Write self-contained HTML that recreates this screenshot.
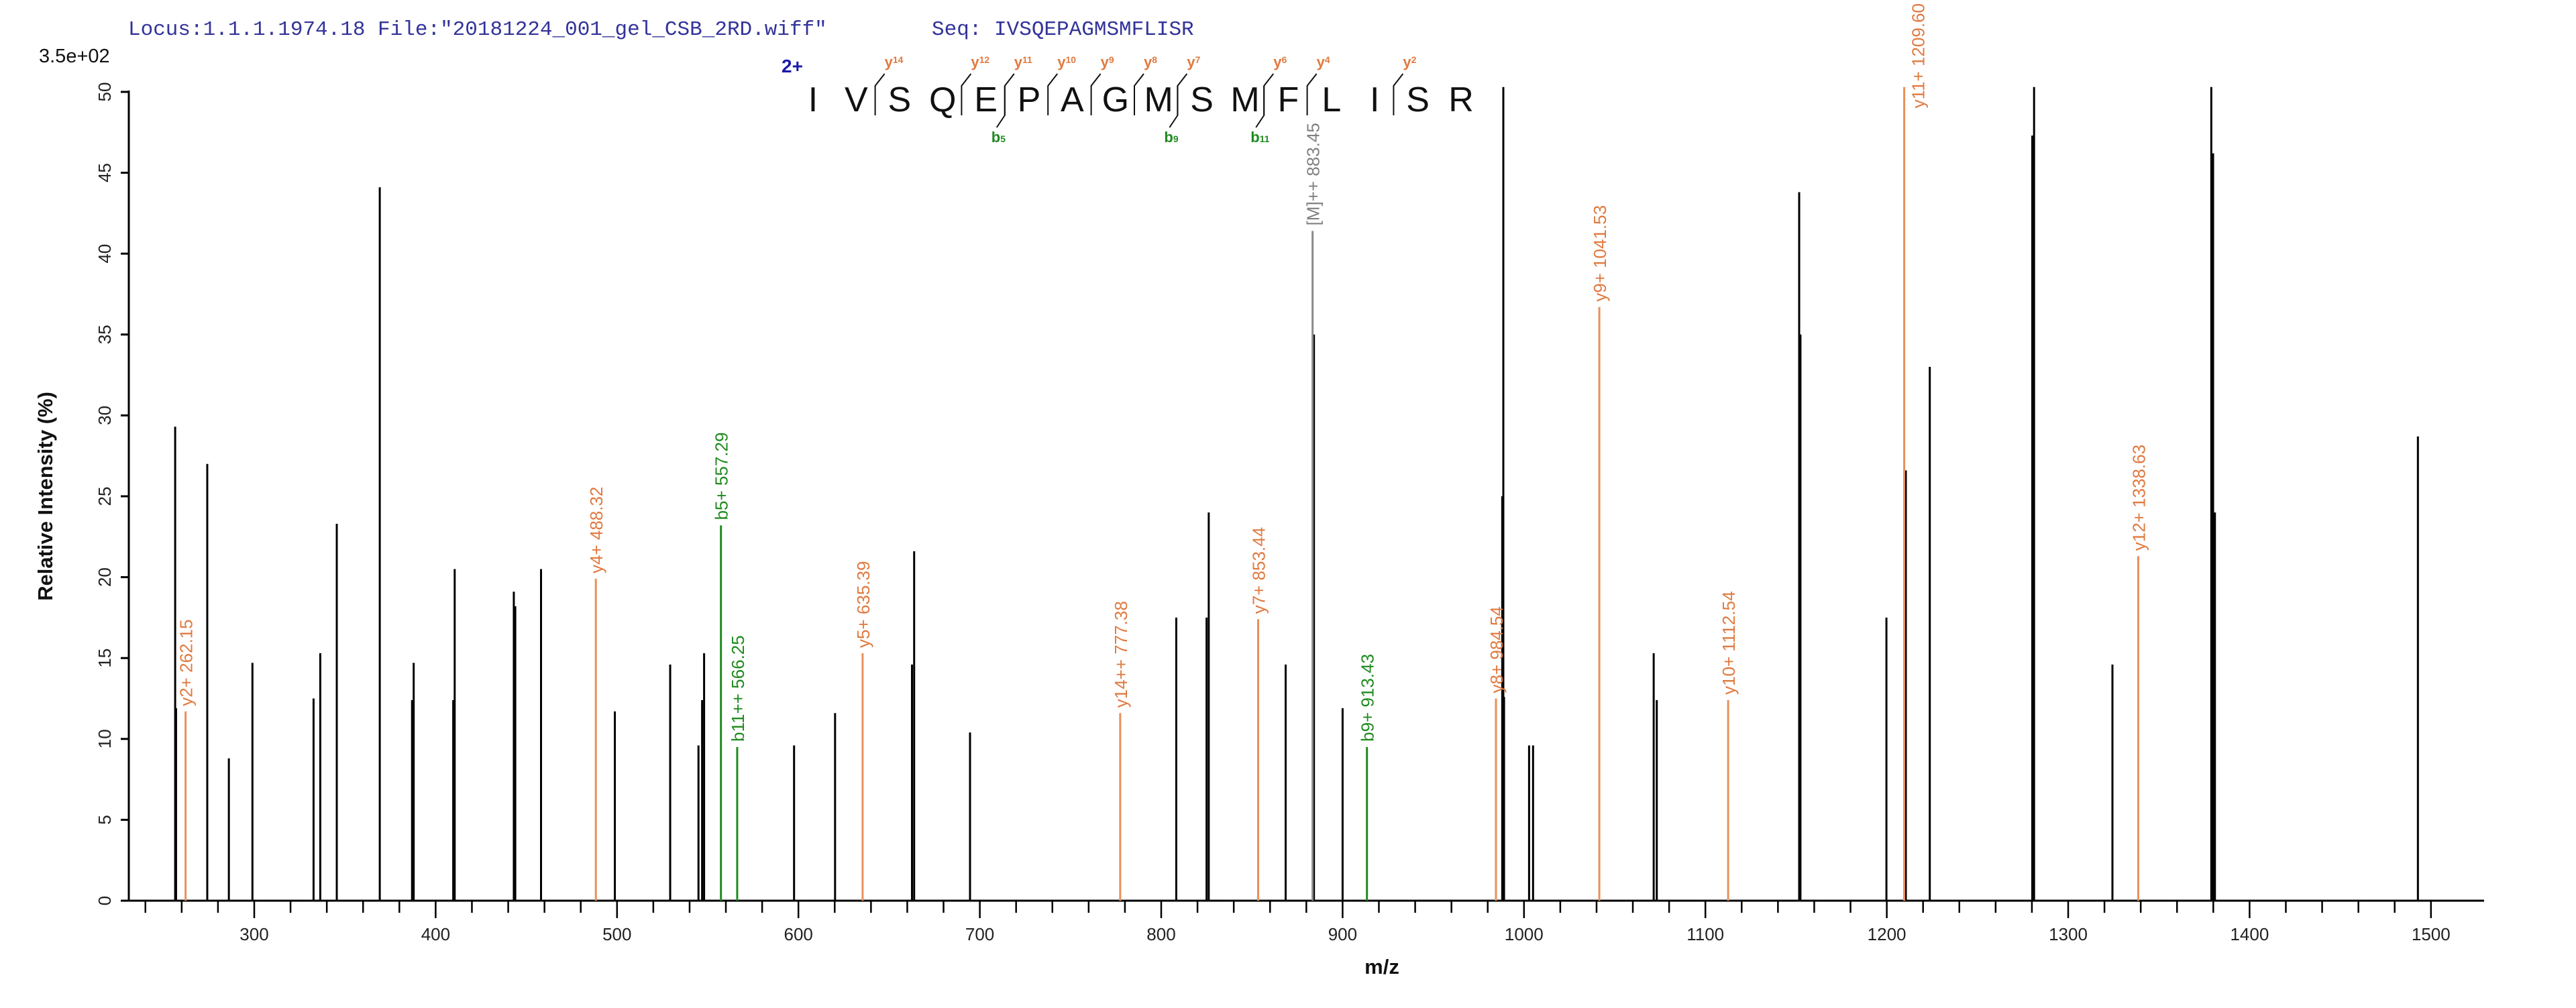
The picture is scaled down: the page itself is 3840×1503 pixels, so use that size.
<!DOCTYPE html>
<html><head><meta charset="utf-8"><style>
html,body{margin:0;padding:0;background:#fff;}
svg{display:block;}
</style></head><body>
<svg id="chart" width="3840" height="1503" viewBox="0 0 3840 1503" xmlns="http://www.w3.org/2000/svg">
<text x="191" y="52" font-family="Liberation Mono, monospace" font-size="31" fill="#33339a">Locus:1.1.1.1974.18 File:"20181224_001_gel_CSB_2RD.wiff"</text>
<text x="1389" y="52" font-family="Liberation Mono, monospace" font-size="31" fill="#33339a">Seq: IVSQEPAGMSMFLISR</text>
<text x="58" y="93" font-family="Liberation Sans, sans-serif" font-size="29" fill="#111">3.5e+02</text>
<text x="1165" y="108" font-family="Liberation Sans, sans-serif" font-size="28" font-weight="bold" fill="#1a1aa8">2+</text>
<g id="seq"></g>
<g id="axes"></g>
<g id="marks"></g>
<text transform="translate(78,740) rotate(-90)" text-anchor="middle" font-family="Liberation Sans, sans-serif" font-size="31" font-weight="bold" fill="#111">Relative  Intensity (%)</text>
<text x="2060" y="1452" text-anchor="middle" font-family="Liberation Sans, sans-serif" font-size="31" font-weight="bold" fill="#111">m/z</text>
</svg>
<script>
const peakMz = [256.4,256.9,274.1,286.0,299.0,332.7,336.4,345.5,369.2,387.0,387.9,409.7,410.5,443.1,443.9,458.1,498.8,529.3,544.9,546.9,548.0,597.6,620.2,662.6,663.8,694.6,808.3,825.0,826.2,868.6,884.2,900.0,988.0,988.6,989.0,1002.8,1005.0,1071.5,1073.2,1151.7,1152.4,1199.8,1210.5,1223.7,1280.2,1281.2,1324.4,1378.9,1379.9,1380.9,1492.8];
const peakInt = [29.3,11.9,27.0,8.8,14.7,12.5,15.3,23.3,44.1,12.4,14.7,12.4,20.5,19.1,18.2,20.5,11.7,14.6,9.6,12.4,15.3,9.6,11.6,14.6,21.6,10.4,17.5,17.5,24.0,14.6,35.0,11.9,25.0,50.3,12.6,9.6,9.6,15.3,12.4,43.8,35.0,17.5,26.6,33.0,47.3,50.3,14.6,50.3,46.2,24.0,28.7];
const ionMz = [262.15,488.32,557.29,566.25,635.39,777.38,853.44,883.45,913.43,984.54,1041.53,1112.54,1209.60,1338.63];
const ionInt = [11.7,19.9,23.2,9.5,15.3,11.6,17.4,41.4,9.5,12.5,36.7,12.4,50.3,21.3];
const ionLabel = ["y2+ 262.15","y4+ 488.32","b5+ 557.29","b11++ 566.25","y5+ 635.39","y14++ 777.38","y7+ 853.44","[M]++ 883.45","b9+ 913.43","y8+ 984.54","y9+ 1041.53","y10+ 1112.54","y11+ 1209.60","y12+ 1338.63"];
const ionType = ["y","y","b","b","y","y","y","m","b","y","y","y","y","y"];
const yTicks = [0,5,10,15,20,25,30,35,40,45,50];
const xMajor = [300,400,500,600,700,800,900,1000,1100,1200,1300,1400,1500];
const sequence = ["I","V","S","Q","E","P","A","G","M","S","M","F","L","I","S","R"];
const yCuts = [[2,"14"],[4,"12"],[5,"11"],[6,"10"],[7,"9"],[8,"8"],[9,"7"],[11,"6"],[12,"4"],[14,"2"]];
const bCuts = [[5,"5"],[9,"9"],[11,"11"]];

const NS="http://www.w3.org/2000/svg";
const X0=379, KX=2.704, Y0=1343, KY=24.12;
const xs = m => X0+(m-300)*KX;
const ys = v => Y0-v*KY;
const col = {y:"#e8905a", b:"#1f8a1f", m:"#8a8a8a"};
const tcol = {y:"#e07a40", b:"#1f8a1f", m:"#808080"};
function mk(tag, attrs, parent){const e=document.createElementNS(NS,tag);for(const k in attrs)e.setAttribute(k,attrs[k]);parent.appendChild(e);return e;}
const axes=document.getElementById('axes'), marks=document.getElementById('marks'), seq=document.getElementById('seq');

let e=mk('line',{x1:192,y1:Y0,x2:3703,y2:Y0,stroke:'#000','stroke-width':3},axes);


e=mk('line',{x1:192,y1:ys(50)-2,x2:192,y2:Y0,stroke:'#000','stroke-width':3},axes);


yTicks.forEach(v=>{
  const t=mk('line',{x1:180,y1:ys(v),x2:192,y2:ys(v),stroke:'#000','stroke-width':3},axes);
  
  
  const l=mk('text',{transform:`translate(165,${ys(v)}) rotate(-90)`,'text-anchor':'middle','font-family':'Liberation Sans, sans-serif','font-size':26,fill:'#222'},axes);
  l.textContent=v;
  
  
});
for(let m=240;m<=1500;m+=20){
  const major=m%100===0;
  const t=mk('line',{x1:xs(m),y1:Y0,x2:xs(m),y2:Y0+(major?26:18),stroke:'#000','stroke-width':2.5},axes);
  
  
}
xMajor.forEach(m=>{
  const l=mk('text',{x:xs(m),y:1402,'text-anchor':'middle','font-family':'Liberation Sans, sans-serif','font-size':26,fill:'#222'},axes);
  l.textContent=m;
  
  
});
peakMz.forEach((m,i)=>{
  const p=mk('line',{x1:xs(m),y1:Y0,x2:xs(m),y2:ys(peakInt[i]),stroke:'#000','stroke-width':3},marks);
  
  
});
ionMz.forEach((m,i)=>{
  const t=ionType[i];
  const p=mk('line',{x1:xs(m),y1:Y0,x2:xs(m),y2:ys(ionInt[i]),stroke:col[t],'stroke-width':3},marks);
  
  
  const l=mk('text',{'font-family':'Liberation Sans, sans-serif','font-size':26,fill:tcol[t]},marks);
  l.textContent=ionLabel[i];
  
  
  const len=l.getComputedTextLength();
  let lx=xs(m)+10, ly=ys(ionInt[i])-8;
  if(ly-len<5){ly=5+len; lx=xs(m)+30;}
  l.setAttribute('transform',`translate(${lx},${ly}) rotate(-90)`);
});
const SX=1212, SP=64.4, LY=166;
sequence.forEach((c,i)=>{
  const t=mk('text',{x:SX+i*SP,y:LY,'text-anchor':'middle','font-family':'Liberation Sans, sans-serif','font-size':52,fill:'#111'},seq);
  t.textContent=c;
  
  
});
yCuts.forEach(([k,n])=>{
  const bx=SX+(k-0.5)*SP-4;
  const pth=mk('polyline',{points:`${bx},172 ${bx},128 ${bx+14},110`,fill:'none',stroke:'#111','stroke-width':2},seq);
  
  
  const t=mk('text',{x:bx+14,y:100,'font-family':'Liberation Sans, sans-serif','font-size':22,'font-weight':'bold',fill:'#e07a40'},seq);
  t.innerHTML=`y<tspan font-size="14" dy="-6">${n}</tspan>`;
  
  
});
bCuts.forEach(([k,n])=>{
  const bx=SX+(k-0.5)*SP-4;
  const pth=mk('polyline',{points:`${bx},128 ${bx},172 ${bx-12},190`,fill:'none',stroke:'#111','stroke-width':2},seq);
  
  
  const t=mk('text',{x:bx-20,y:212,'font-family':'Liberation Sans, sans-serif','font-size':22,'font-weight':'bold',fill:'#1f8a1f'},seq);
  t.innerHTML=`b<tspan font-size="14">${n}</tspan>`;
  
  
});
</script>
</body></html>
